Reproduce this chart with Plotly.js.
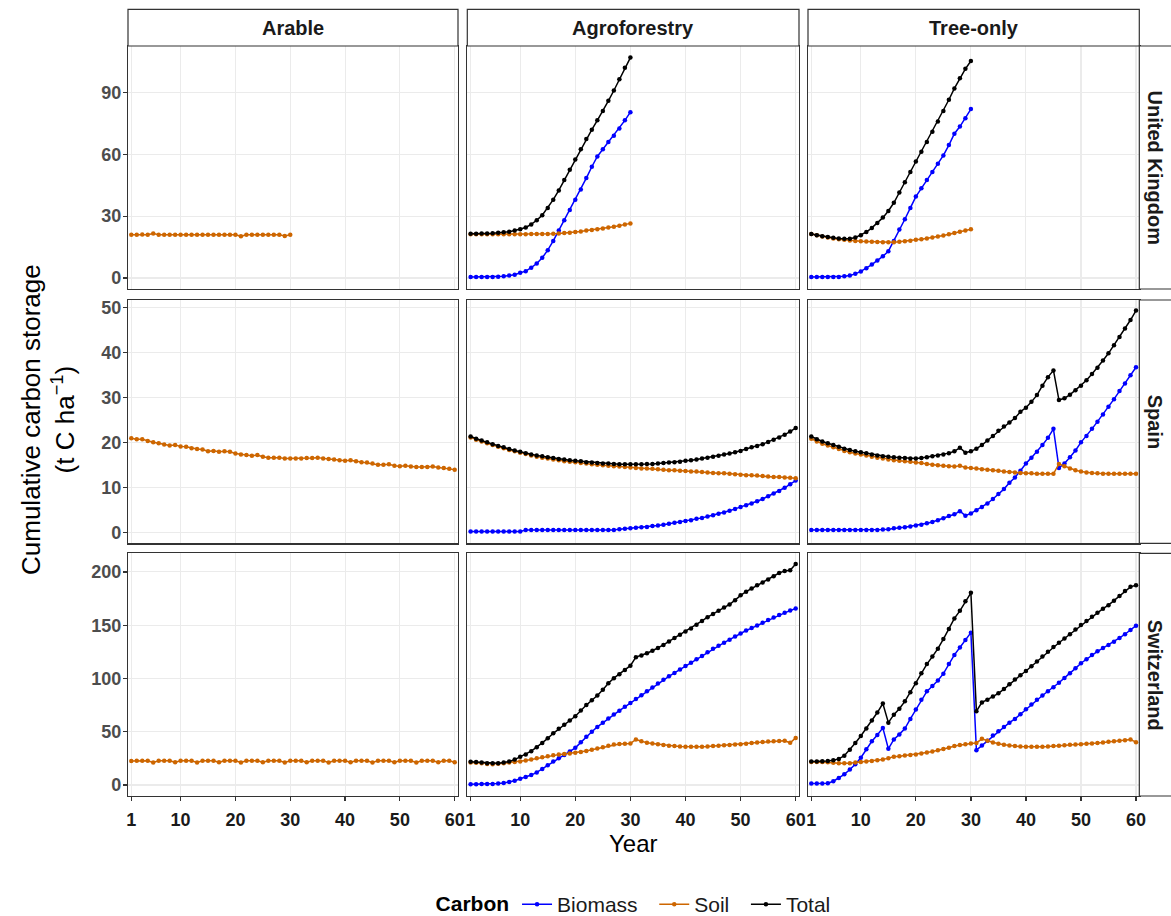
<!DOCTYPE html>
<html><head><meta charset="utf-8">
<script src="https://cdn.plot.ly/plotly-3.0.1.min.js"></script>
<style>html,body{margin:0;padding:0;background:#fff;}#chart{width:1171px;height:916px;}</style>
</head><body><div id="chart"></div>
<script>
// ---------------- DATA ----------------
const yearsUK = [1,2,3,4,5,6,7,8,9,10,11,12,13,14,15,16,17,18,19,20,21,22,23,24,25,26,27,28,29,30];
const years = [1,2,3,4,5,6,7,8,9,10,11,12,13,14,15,16,17,18,19,20,21,22,23,24,25,26,27,28,29,30,31,32,33,34,35,36,37,38,39,40,41,42,43,44,45,46,47,48,49,50,51,52,53,54,55,56,57,58,59,60];

const colLabels = ["Arable","Agroforestry","Tree-only"];
const rowLabels = ["United Kingdom","Spain","Switzerland"];
const seriesNames = ["Biomass","Soil","Total"];
const xTickVals = [1,10,20,30,40,50,60];
const yTickVals = [[0,30,60,90],[0,10,20,30,40,50],[0,50,100,150,200]];

// United Kingdom
const ukArableSoil = [21.0,21.0,21.1,21.0,21.6,21.0,21.0,21.0,21.0,21.0,21.0,21.0,21.0,21.0,21.0,21.0,21.0,21.0,21.0,21.0,20.3,21.0,21.0,21.0,21.0,21.0,21.0,21.0,20.4,21.0];
const ukAgroBiomass = [0.5,0.5,0.5,0.5,0.5,0.6,0.8,1.2,1.6,2.5,3.3,5.0,7.0,9.8,13.5,18.0,23.0,28.0,33.0,38.0,43.0,48.5,54.0,59.0,62.5,66.0,69.0,72.5,76.5,80.5];
const ukAgroSoil = [21.2,21.2,21.2,21.2,21.2,21.2,21.2,21.2,21.2,21.2,21.2,21.3,21.3,21.4,21.4,21.5,21.6,21.8,22.0,22.3,22.6,23.0,23.3,23.7,24.0,24.5,24.9,25.4,25.9,26.5];
const ukAgroTotal = [21.5,21.5,21.6,21.6,21.7,22.0,22.2,22.4,23.0,23.7,24.5,26.0,28.0,30.5,34.0,38.0,42.5,47.5,52.5,57.5,62.5,67.5,72.0,76.5,81.0,86.0,91.0,96.5,102.0,107.0];
const ukTreeBiomass = [0.5,0.5,0.5,0.5,0.5,0.5,0.8,1.2,2.0,3.2,4.7,6.5,8.5,10.5,13.0,18.0,23.5,28.5,34.0,39.5,43.5,47.5,51.5,55.5,59.5,64.5,70.0,73.5,77.5,82.0];
const ukTreeSoil = [21.3,20.7,20.1,19.6,19.2,18.8,18.5,18.2,18.0,17.8,17.7,17.6,17.5,17.4,17.4,17.4,17.6,17.8,18.1,18.5,18.8,19.2,19.7,20.1,20.6,21.2,21.8,22.4,23.0,23.7];
const ukTreeTotal = [21.3,20.8,20.3,19.9,19.5,19.2,19.0,19.0,19.6,20.8,22.3,24.3,26.7,29.3,32.5,36.5,41.5,46.5,51.5,56.5,61.3,66.0,71.0,76.0,81.0,86.5,92.0,97.0,101.5,105.3];

// Spain
const spArableSoil = [20.9,20.7,20.7,20.3,20.0,19.8,19.5,19.3,19.4,19.1,19.0,18.7,18.5,18.4,18.0,18.1,17.9,18.0,17.9,17.5,17.3,17.2,17.0,17.2,16.8,16.6,16.6,16.6,16.4,16.4,16.4,16.4,16.5,16.5,16.6,16.4,16.3,16.2,16.0,15.9,16.0,15.8,15.6,15.5,15.3,15.0,15.0,15.1,14.8,14.7,14.8,14.6,14.5,14.5,14.5,14.6,14.4,14.3,14.1,13.9];
const spAgroBiomass = [0.2,0.2,0.2,0.2,0.2,0.2,0.2,0.2,0.2,0.2,0.5,0.5,0.5,0.5,0.5,0.5,0.5,0.5,0.5,0.5,0.5,0.5,0.5,0.5,0.5,0.5,0.5,0.7,0.8,0.9,1.0,1.1,1.2,1.4,1.5,1.7,1.9,2.1,2.3,2.5,2.7,3.0,3.2,3.5,3.8,4.1,4.4,4.8,5.2,5.6,6.0,6.4,6.9,7.4,8.0,8.6,9.2,9.9,10.7,11.5];
const spAgroSoil = [21.1,20.6,20.2,19.8,19.4,19.0,18.7,18.3,18.0,17.7,17.4,17.1,16.8,16.6,16.4,16.2,16.0,15.8,15.7,15.6,15.4,15.3,15.1,15.0,14.9,14.8,14.7,14.6,14.5,14.4,14.3,14.2,14.2,14.1,14.0,13.9,13.8,13.8,13.7,13.6,13.5,13.5,13.4,13.3,13.2,13.1,13.1,13.0,12.9,12.8,12.7,12.7,12.6,12.5,12.4,12.3,12.3,12.2,12.1,12.0];
const spAgroTotal = [21.3,20.8,20.4,20.0,19.6,19.2,18.9,18.5,18.2,17.9,17.6,17.3,17.1,16.9,16.7,16.5,16.3,16.2,16.0,15.9,15.8,15.6,15.5,15.4,15.3,15.3,15.2,15.1,15.1,15.1,15.1,15.1,15.2,15.2,15.3,15.4,15.5,15.6,15.7,15.9,16.0,16.2,16.4,16.6,16.8,17.0,17.3,17.5,17.8,18.1,18.5,18.9,19.2,19.6,20.1,20.6,21.1,21.7,22.4,23.2];
const spTreeBiomass = [0.5,0.5,0.5,0.5,0.5,0.5,0.5,0.5,0.5,0.5,0.5,0.5,0.5,0.6,0.7,0.9,1.0,1.1,1.3,1.5,1.7,2.0,2.3,2.7,3.1,3.6,4.0,4.7,3.7,4.2,4.9,5.6,6.4,7.4,8.5,9.6,11.0,12.2,13.7,15.3,16.6,17.9,19.4,21.0,23.0,14.3,15.3,16.7,18.2,20.0,21.4,23.0,24.6,26.2,27.9,29.6,31.4,33.1,34.9,36.7];
const spTreeSoil = [20.8,20.2,19.7,19.3,18.9,18.5,18.1,17.8,17.5,17.3,17.1,16.8,16.6,16.4,16.2,16.0,15.9,15.8,15.7,15.5,15.4,15.2,15.0,14.9,14.8,14.7,14.6,14.8,14.4,14.3,14.2,14.0,13.9,13.8,13.7,13.5,13.4,13.3,13.2,13.1,13.1,13.0,13.0,13.0,13.0,15.2,14.7,14.2,13.8,13.5,13.3,13.2,13.1,13.0,13.0,13.0,13.0,13.0,13.0,13.0];
const spTreeTotal = [21.3,20.7,20.2,19.8,19.4,19.0,18.6,18.3,18.0,17.8,17.6,17.3,17.1,16.9,16.8,16.7,16.6,16.5,16.4,16.4,16.5,16.7,16.9,17.1,17.3,17.6,18.0,18.8,17.7,18.0,18.6,19.4,20.4,21.4,22.6,23.5,24.4,25.4,26.8,27.7,29.0,30.5,32.6,34.5,36.0,29.4,29.8,30.6,31.6,32.6,33.8,35.2,36.6,38.2,39.8,41.6,43.4,45.3,47.2,49.3];

// Switzerland
const swArableSoil = [22.6,22.8,22.8,22.7,21.2,22.7,22.8,22.7,21.3,22.7,22.8,22.7,21.2,22.7,22.8,22.7,21.3,22.7,22.8,22.7,21.2,22.7,22.8,22.7,21.3,22.7,22.8,22.7,21.2,22.7,22.8,22.7,21.3,22.7,22.8,22.7,21.2,22.7,22.8,22.7,21.3,22.7,22.8,22.7,21.2,22.7,22.8,22.7,21.3,22.7,22.8,22.7,21.2,22.7,22.8,22.7,21.3,22.7,22.8,21.3];
const swAgroBiomass = [0.7,0.7,0.8,0.9,1.0,1.3,1.8,2.8,4.0,5.9,7.5,9.3,11.8,15.0,18.5,22.0,25.0,28.2,31.5,34.9,40.0,45.3,50.0,54.5,58.5,62.5,66.1,69.8,73.4,77.0,80.6,84.2,87.9,91.6,95.3,98.8,102.0,105.2,108.4,111.6,114.8,118.0,121.2,124.6,127.8,130.8,133.6,136.4,139.4,142.3,145.0,147.3,149.8,152.3,154.8,157.2,159.5,161.6,163.7,165.7];
const swAgroSoil = [21.0,20.8,20.3,19.8,19.5,20.0,20.5,21.0,21.5,22.0,23.0,24.0,25.0,26.0,27.0,27.8,28.5,29.0,29.6,30.2,31.0,32.0,33.0,34.2,35.5,36.8,38.0,38.5,38.8,39.0,42.7,41.0,39.6,39.0,38.3,37.5,36.8,36.5,36.2,36.0,35.9,35.9,36.0,36.2,36.5,36.8,37.2,37.6,38.0,38.3,38.8,39.3,39.8,40.3,40.8,41.1,41.3,41.5,39.6,44.2];
const swAgroTotal = [21.8,21.6,21.0,20.5,20.3,20.5,21.0,22.0,23.8,26.5,28.5,31.7,35.5,39.5,43.8,48.5,52.8,56.5,60.5,64.5,70.0,75.0,79.5,84.0,89.5,95.5,100.3,104.0,108.0,112.0,120.0,121.5,123.7,126.0,128.5,131.5,134.8,138.0,141.0,144.0,147.0,150.5,154.0,157.5,160.5,163.5,166.5,169.5,173.5,178.0,181.5,184.5,187.5,190.0,192.8,196.0,199.0,201.0,201.5,207.5];
const swTreeBiomass = [1.3,1.3,1.4,1.6,3.5,6.5,10.0,14.5,19.5,25.6,33.5,41.0,47.0,53.6,34.0,42.7,47.5,53.0,62.0,70.8,80.0,87.9,93.0,98.0,104.5,113.5,122.1,129.0,136.0,143.0,32.7,37.0,41.5,46.5,50.5,54.5,58.5,62.0,66.5,71.0,75.5,80.0,84.0,88.0,91.8,96.0,100.5,104.8,109.5,114.3,118.0,122.0,125.5,128.5,131.5,134.5,138.0,141.5,145.5,149.6];
const swTreeSoil = [21.5,21.5,21.5,21.3,20.8,20.4,20.3,20.5,21.0,21.5,22.0,22.6,23.3,24.0,25.2,26.5,27.0,27.6,28.2,28.7,29.5,30.5,31.5,32.5,33.7,35.0,36.5,37.5,38.3,39.0,39.5,43.3,41.5,39.8,38.8,37.8,37.0,36.5,36.2,36.0,35.9,35.9,36.0,36.2,36.5,36.9,37.3,37.7,38.0,38.3,38.6,39.0,39.4,39.9,40.5,41.1,41.5,42.0,42.7,40.2];
const swTreeTotal = [22.0,22.0,22.2,22.5,23.2,24.5,27.5,33.0,39.5,46.0,53.0,60.5,68.0,76.5,58.5,66.0,71.5,78.5,87.0,95.6,105.0,113.5,120.5,128.0,137.0,146.5,156.4,163.5,172.5,180.4,69.2,77.5,80.1,83.0,86.0,90.0,94.5,99.0,103.0,107.0,111.5,116.0,120.5,125.0,129.5,133.5,137.5,141.5,146.0,150.2,154.0,158.0,161.8,165.5,168.8,173.0,177.5,182.0,186.0,187.5];

// ---------------- PANELS ----------------
const panels = [
  [ {x: yearsUK, Soil: ukArableSoil},
    {x: yearsUK, Biomass: ukAgroBiomass, Soil: ukAgroSoil, Total: ukAgroTotal},
    {x: yearsUK, Biomass: ukTreeBiomass, Soil: ukTreeSoil, Total: ukTreeTotal} ],
  [ {x: years, Soil: spArableSoil},
    {x: years, Biomass: spAgroBiomass, Soil: spAgroSoil, Total: spAgroTotal},
    {x: years, Biomass: spTreeBiomass, Soil: spTreeSoil, Total: spTreeTotal} ],
  [ {x: years, Soil: swArableSoil},
    {x: years, Biomass: swAgroBiomass, Soil: swAgroSoil, Total: swAgroTotal},
    {x: years, Biomass: swTreeBiomass, Soil: swTreeSoil, Total: swTreeTotal} ]
];

const colors = {Biomass: '#0000FF', Soil: '#CD6600', Total: '#000000'};
const W = 1171, H = 916;
const FONT = 'Liberation Sans, Arial, sans-serif';
const colPx = [[128,458],[467.3,799],[808,1139.3]];
const rowPx = [[46,289],[300,543.3],[553.3,796]];
const yRanges = [[-5.35,112.6],[-2.45,51.65],[-10.35,217.5]];

const traces = [];
const layout = {
  width: W, height: H, margin: {l:0,r:0,t:0,b:0,pad:0,autoexpand:false},
  paper_bgcolor: '#fff', plot_bgcolor: '#fff',
  showlegend: true,
  font: {family: FONT, color: '#000'},
  shapes: [], annotations: [],
  legend: {orientation: 'h', x: 0.547, xanchor: 'center', y: 0.0125, yanchor: 'middle',
    font: {family: FONT, size: 21, color: '#1a1a1a'},
    title: {text: 'Carbon', side: 'left', font: {family: FONT, size: 21, color: '#000', weight: 'bold'}},
    itemwidth: 30, tracegroupgap: 0, bgcolor: 'rgba(0,0,0,0)'}
};

const legendShown = {};
for (let r = 0; r < 3; r++) {
  for (let c = 0; c < 3; c++) {
    const idx = r*3 + c + 1;
    const xk = idx === 1 ? 'x' : 'x' + idx;
    const yk = idx === 1 ? 'y' : 'y' + idx;
    const p = panels[r][c];
    seriesNames.forEach(s => {
      if (!p[s]) return;
      const show = c > 0 && !legendShown[s];
      if (show) legendShown[s] = true;
      traces.push({
        type: 'scatter', mode: 'lines+markers', name: s + '  ', legendgroup: s, showlegend: show,
        x: p.x, y: p[s], xaxis: xk, yaxis: yk,
        line: {color: colors[s], width: 1.5},
        marker: {color: colors[s], size: 4.5, symbol: 'circle'},
        hoverinfo: 'skip', cliponaxis: true
      });
    });
    const xDom = [colPx[c][0]/W, colPx[c][1]/W];
    const yDom = [1 - rowPx[r][1]/H, 1 - rowPx[r][0]/H];
    layout['xaxis' + (idx === 1 ? '' : idx)] = {
      domain: xDom, anchor: yk, range: [0.4, 60.6], tickvals: xTickVals, ticktext: xTickVals.map(String),
      showticklabels: r === 2, ticks: r === 2 ? 'outside' : '', ticklen: 4, tickwidth: 1.2, tickcolor: '#333',
      ticklabelstandoff: 3,
      tickfont: {family: FONT, size: 18, color: '#1a1a1a', weight: 'bold'},
      showgrid: true, gridcolor: '#EBEBEB', gridwidth: 1.1, zeroline: false,
      showline: true, linecolor: '#333', linewidth: 1.2, mirror: true, fixedrange: true, automargin: false
    };
    layout['yaxis' + (idx === 1 ? '' : idx)] = {
      domain: yDom, anchor: xk, range: yRanges[r], tickvals: yTickVals[r], ticktext: yTickVals[r].map(String),
      showticklabels: c === 0, ticks: c === 0 ? 'outside' : '', ticklen: 4, tickwidth: 1.2, tickcolor: '#333',
      ticklabelstandoff: -2,
      tickfont: {family: FONT, size: 18, color: '#4D4D4D', weight: 'bold'},
      showgrid: true, gridcolor: '#EBEBEB', gridwidth: 1.1, zeroline: false,
      showline: true, linecolor: '#333', linewidth: 1.2, mirror: true, fixedrange: true, automargin: false
    };
  }
}

// strips (top)
colLabels.forEach((lab, c) => {
  layout.shapes.push({type: 'rect', xref: 'paper', yref: 'paper',
    x0: colPx[c][0]/W, x1: colPx[c][1]/W, y0: 1 - 46/H, y1: 1 - 9.3/H,
    line: {color: '#333', width: 1.2}, fillcolor: '#fff', layer: 'above'});
  layout.annotations.push({xref: 'paper', yref: 'paper', x: (colPx[c][0]+colPx[c][1])/2/W, y: 1 - 28/H,
    text: lab, showarrow: false, xanchor: 'center', yanchor: 'middle',
    font: {family: FONT, size: 20, color: '#1a1a1a', weight: 'bold'}});
});
// strips (right)
rowLabels.forEach((lab, r) => {
  layout.shapes.push({type: 'rect', xref: 'paper', yref: 'paper',
    x0: 1139.3/W, x1: 1185/W, y0: 1 - rowPx[r][1]/H, y1: 1 - rowPx[r][0]/H,
    line: {color: '#333', width: 1.2}, fillcolor: '#fff', layer: 'above'});
  layout.annotations.push({xref: 'paper', yref: 'paper', x: 1155/W, y: 1 - (rowPx[r][0]+rowPx[r][1])/2/H,
    text: lab, showarrow: false, xanchor: 'center', yanchor: 'middle', textangle: 90,
    font: {family: FONT, size: 20, color: '#1a1a1a', weight: 'bold'}});
});
// axis titles
layout.annotations.push({xref: 'paper', yref: 'paper', x: 48/W, y: 1 - 420/H,
  text: 'Cumulative carbon storage<br>(t C ha<sup>\u22121</sup>)', showarrow: false,
  xanchor: 'center', yanchor: 'middle', textangle: -90,
  font: {family: FONT, size: 26, color: '#000'}});
layout.annotations.push({xref: 'paper', yref: 'paper', x: 633.5/W, y: 1 - 843/H,
  text: 'Year', showarrow: false, xanchor: 'center', yanchor: 'middle',
  font: {family: FONT, size: 24, color: '#000'}});

Plotly.newPlot('chart', traces, layout, {staticPlot: true, displayModeBar: false});
</script>
</body></html>
